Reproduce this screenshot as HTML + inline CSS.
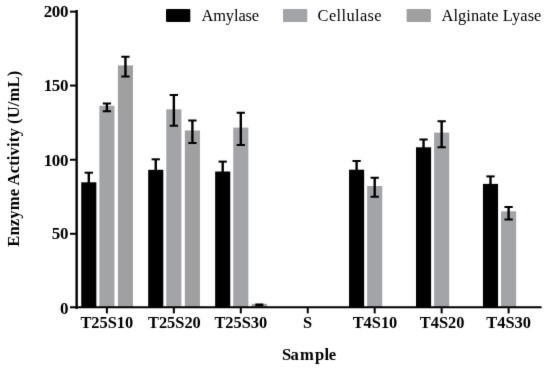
<!DOCTYPE html>
<html lang="en"><head><meta charset="utf-8"><title>Enzyme Activity</title>
<style>html,body{margin:0;padding:0;background:#fff}svg{display:block}</style></head>
<body>
<svg width="550" height="369" viewBox="0 0 550 369">
<rect width="550" height="369" fill="#fff"/>
<defs><filter id="soft" x="0" y="0" width="550" height="369" filterUnits="userSpaceOnUse" color-interpolation-filters="sRGB"><feConvolveMatrix order="3" kernelMatrix="0.0074 0.0713 0.0074 0.0713 0.6853 0.0713 0.0074 0.0713 0.0074" divisor="1" edgeMode="duplicate" preserveAlpha="true"/></filter></defs>
<g id="chart">
<rect width="550" height="369" fill="#fff"/>
<rect x="81.25" y="182.30" width="15.1" height="124.95" fill="#000000"/>
<rect x="99.35" y="105.80" width="15.1" height="201.45" fill="#a3a4a8"/>
<rect x="117.90" y="65.40" width="15.1" height="241.85" fill="#a0a0a0"/>
<rect x="148.20" y="169.80" width="15.1" height="137.45" fill="#000000"/>
<rect x="166.30" y="109.30" width="15.1" height="197.95" fill="#a3a4a8"/>
<rect x="184.85" y="130.50" width="15.1" height="176.75" fill="#a0a0a0"/>
<rect x="215.15" y="171.50" width="15.1" height="135.75" fill="#000000"/>
<rect x="233.25" y="127.60" width="15.1" height="179.65" fill="#a3a4a8"/>
<rect x="251.80" y="303.80" width="15.1" height="3.45" fill="#a0a0a0"/>
<rect x="349.05" y="169.70" width="15.1" height="137.55" fill="#000000"/>
<rect x="367.15" y="186.00" width="15.1" height="121.25" fill="#a3a4a8"/>
<rect x="416.00" y="147.30" width="15.1" height="159.95" fill="#000000"/>
<rect x="434.10" y="132.60" width="15.1" height="174.65" fill="#a3a4a8"/>
<rect x="482.95" y="183.90" width="15.1" height="123.35" fill="#000000"/>
<rect x="501.05" y="211.30" width="15.1" height="95.95" fill="#a3a4a8"/>
<g stroke="#000" stroke-width="2.4" fill="none" stroke-linecap="butt">
<path stroke-width="2.4" d="M88.80 172.70V183.30"/>
<path stroke-width="2.0" d="M84.65 172.70H92.95"/>
<path stroke-width="2.4" d="M106.90 103.60V111.20"/>
<path stroke-width="2.0" d="M102.75 103.60H111.05M102.75 111.20H111.05"/>
<path stroke-width="2.4" d="M125.45 56.70V76.50"/>
<path stroke-width="2.0" d="M121.30 56.70H129.60M121.30 76.50H129.60"/>
<path stroke-width="2.4" d="M155.75 159.30V170.80"/>
<path stroke-width="2.0" d="M151.60 159.30H159.90"/>
<path stroke-width="2.4" d="M173.85 95.00V125.80"/>
<path stroke-width="2.0" d="M169.70 95.00H178.00M169.70 125.80H178.00"/>
<path stroke-width="2.4" d="M192.40 120.60V143.10"/>
<path stroke-width="2.0" d="M188.25 120.60H196.55M188.25 143.10H196.55"/>
<path stroke-width="2.4" d="M222.70 161.60V172.50"/>
<path stroke-width="2.0" d="M218.55 161.60H226.85"/>
<path stroke-width="2.4" d="M240.80 112.70V145.00"/>
<path stroke-width="2.0" d="M236.65 112.70H244.95M236.65 145.00H244.95"/>
<rect x="255.35" y="303.5" width="8" height="2.6" fill="#000" stroke="none"/>
<path stroke-width="2.4" d="M356.60 161.00V170.70"/>
<path stroke-width="2.0" d="M352.45 161.00H360.75"/>
<path stroke-width="2.4" d="M374.70 177.70V196.70"/>
<path stroke-width="2.0" d="M370.55 177.70H378.85M370.55 196.70H378.85"/>
<path stroke-width="2.4" d="M423.55 139.50V148.30"/>
<path stroke-width="2.0" d="M419.40 139.50H427.70"/>
<path stroke-width="2.4" d="M441.65 121.20V147.30"/>
<path stroke-width="2.0" d="M437.50 121.20H445.80M437.50 147.30H445.80"/>
<path stroke-width="2.4" d="M490.50 176.40V184.90"/>
<path stroke-width="2.0" d="M486.35 176.40H494.65"/>
<path stroke-width="2.4" d="M508.60 206.90V219.40"/>
<path stroke-width="2.0" d="M504.45 206.90H512.75M504.45 219.40H512.75"/>
</g>
<g stroke="#000" fill="none">
<path d="M76.65 9.9V309.0" stroke-width="2.4"/>
<path d="M70 307.25H541.6" stroke-width="2"/>
<path d="M70 11.65H76.65" stroke-width="2.0"/>
<path d="M70 85.55H76.65" stroke-width="2.0"/>
<path d="M70 159.75H76.65" stroke-width="2.0"/>
<path d="M70 233.8H76.65" stroke-width="2.0"/>
<path d="M106.90 307.25V313.4" stroke-width="2"/>
<path d="M173.85 307.25V313.4" stroke-width="2"/>
<path d="M240.80 307.25V313.4" stroke-width="2"/>
<path d="M307.75 307.25V313.4" stroke-width="2"/>
<path d="M374.70 307.25V313.4" stroke-width="2"/>
<path d="M441.65 307.25V313.4" stroke-width="2"/>
<path d="M508.60 307.25V313.4" stroke-width="2"/>
</g>
<g font-family="'Liberation Serif', 'Times New Roman', serif" fill="#000">
<g font-weight="bold" font-size="17px" text-anchor="end" letter-spacing="-0.4">
<text x="68.0" y="17.35">200</text>
<text x="68.0" y="91.30">150</text>
<text x="68.0" y="165.90">100</text>
<text x="68.0" y="239.45">50</text>
<text x="68.0" y="313.60">0</text>
</g>
<g font-weight="bold" font-size="16.4px" text-anchor="middle">
<text x="106.8" y="328.3">T25S10</text>
<text x="174.4" y="328.3">T25S20</text>
<text x="240.8" y="328.3">T25S30</text>
<text x="307.6" y="328.3">S</text>
<text x="375.0" y="328.3">T4S10</text>
<text x="442.1" y="328.3">T4S20</text>
<text x="508.6" y="328.3">T4S30</text>
</g>
<text x="282.1 290.6 300.0 315.0 324.4 328.7" y="360.0" font-weight="bold" font-size="16.6px">Sample</text>
<text transform="translate(18.8 246.7) rotate(-90)" font-weight="bold" font-size="16.6px" textLength="176.0" lengthAdjust="spacing">Enzyme Activity (U/mL)</text>
<rect x="166" y="9" width="24.3" height="13" rx="1" fill="#000000"/>
<rect x="283" y="9" width="24.3" height="13" rx="1" fill="#a3a4a8"/>
<rect x="406.6" y="9" width="24.3" height="13" rx="1" fill="#a0a0a0"/>
<text x="201.5" y="21.2" font-size="16.4px" textLength="57.6" lengthAdjust="spacing">Amylase</text>
<text x="317.6" y="21.2" font-size="16.4px" textLength="64.0" lengthAdjust="spacing">Cellulase</text>
<text x="441.5" y="21.2" font-size="16.4px" textLength="99.9" lengthAdjust="spacing">Alginate Lyase</text>
</g>
</g>
<use href="#chart" filter="url(#soft)"/>
</svg>
</body></html>
